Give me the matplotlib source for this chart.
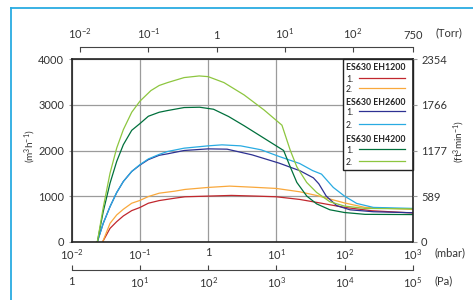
import matplotlib
matplotlib.use('Agg')
import matplotlib.pyplot as plt
from matplotlib.lines import Line2D
from matplotlib.patches import Rectangle
from matplotlib.ticker import NullLocator

plt.rcParams['font.family'] = ['Lato', 'DejaVu Sans']
plt.rcParams['mathtext.fontset'] = 'custom'
plt.rcParams['mathtext.rm'] = 'Lato'
plt.rcParams['mathtext.it'] = 'Lato:italic'
plt.rcParams['mathtext.bf'] = 'Lato:bold'

# pressure (mbar) / pumping speed (m3/h)
p_1200_1 = [0.0285, 0.0365, 0.0457, 0.0572, 0.0759, 0.1, 0.133, 0.192, 0.327, 0.457, 1, 2.2, 5, 10, 22, 42, 100, 250, 1000]
q_1200_1 = [0, 293, 440, 565, 682, 750, 844, 902, 955, 985, 1000, 1015, 1000, 985, 927, 854, 752, 679, 630]

p_1200_2 = [0.0285, 0.0365, 0.0457, 0.0572, 0.0759, 0.1, 0.133, 0.192, 0.327, 0.457, 1, 2.07, 4.5, 10, 22, 40, 100, 200, 1000]
q_1200_2 = [0, 403, 587, 712, 844, 905, 990, 1064, 1109, 1146, 1190, 1219, 1195, 1168, 1095, 1010, 850, 752, 708]

p_2600_1 = [0.0238, 0.029, 0.0365, 0.0457, 0.0572, 0.0759, 0.1, 0.133, 0.192, 0.254, 0.445, 1, 1.9, 4.4, 11, 22.3, 35, 42, 54, 77, 120, 265, 1000]
q_2600_1 = [0, 403, 770, 1078, 1321, 1541, 1680, 1800, 1895, 1927, 2000, 2036, 2029, 1905, 1723, 1555, 1400, 1270, 1000, 790, 700, 657, 635]

p_2600_2 = [0.0238, 0.029, 0.0365, 0.0457, 0.0572, 0.0759, 0.1, 0.133, 0.192, 0.254, 0.445, 1, 1.6, 3, 6, 11, 22, 34, 46, 68.5, 100, 151, 265, 1000]
q_2600_2 = [0, 403, 770, 1078, 1321, 1541, 1690, 1815, 1915, 1978, 2051, 2102, 2124, 2102, 2015, 1869, 1715, 1560, 1482, 1190, 1000, 839, 752, 730]

p_4200_1 = [0.0238, 0.029, 0.0365, 0.0457, 0.0572, 0.0759, 0.1, 0.133, 0.192, 0.254, 0.445, 0.75, 1.2, 2, 3.4, 6.6, 12.8, 16, 20, 28, 39, 61, 100, 200, 1000]
q_4200_1 = [0, 660, 1284, 1761, 2128, 2443, 2590, 2751, 2839, 2876, 2942, 2949, 2905, 2745, 2540, 2270, 2000, 1642, 1300, 1000, 830, 700, 640, 600, 595]

p_4200_2 = [0.0238, 0.029, 0.0365, 0.0457, 0.0572, 0.0759, 0.1, 0.145, 0.192, 0.254, 0.445, 0.74, 1, 1.71, 3.37, 6.6, 12.1, 16, 20, 27.9, 39, 61, 100, 200, 1000]
q_4200_2 = [0, 750, 1504, 2054, 2458, 2839, 3081, 3314, 3426, 3489, 3599, 3635, 3620, 3489, 3219, 2890, 2555, 2007, 1642, 1300, 1080, 876, 781, 730, 720]

groups = ['ES630 EH1200', 'ES630 EH2600', 'ES630 EH4200']
series = [
    (p_1200_1, q_1200_1, '#c1272d'),
    (p_1200_2, q_1200_2, '#f9a83c'),
    (p_2600_1, q_2600_1, '#2e3192'),
    (p_2600_2, q_2600_2, '#29abe2'),
    (p_4200_1, q_4200_1, '#00703c'),
    (p_4200_2, q_4200_2, '#8dc63f'),
]

mbar_ticks = [0.01, 0.1, 1, 10, 100, 1000]
mbar_labels = ['$10^{-2}$', '$10^{-1}$', '1', '$10^{1}$', '$10^{2}$', '$10^{3}$']
torr_ticks = [0.01, 0.1, 1, 10, 100, 750]
torr_labels = ['$10^{-2}$', '$10^{-1}$', '1', '$10^{1}$', '$10^{2}$', '750']
pa_ticks = [1, 10, 100, 1000, 10000, 100000]
pa_labels = ['1', '$10^{1}$', '$10^{2}$', '$10^{3}$', '$10^{4}$', '$10^{5}$']
m3h_ticks = [0, 1000, 2000, 3000, 4000]
cfm_ticks = [0, 589, 1177, 1766, 2354]

fig = plt.figure(figsize=(4.73, 3.0), dpi=100)
W, H = 473, 300
L, R, T, B = 71.7, 412.7, 59.3, 241.7
ax = fig.add_axes([L / W, 1 - B / H, (R - L) / W, (B - T) / H])

for p, q, c in series:
    ax.plot(p, q, color=c, lw=0.9, zorder=3)

ax.set_xscale('log')
ax.set_xlim(0.01, 1000)
ax.set_ylim(0, 4000)
ax.xaxis.set_minor_locator(NullLocator())
ax.set_xticks(mbar_ticks, labels=mbar_labels)
ax.set_yticks(m3h_ticks)
ax.grid(True, color='#9b9b9b', lw=0.9)
ax.tick_params(axis='x', length=0, pad=4, labelsize=8, colors='#333333')
ax.tick_params(axis='y', length=2.5, color='#9b9b9b', pad=3, labelsize=8, labelcolor='#333333')
for s in ax.spines.values():
    s.set_linewidth(1.2)
    s.set_color('#222222')
    s.set_zorder(6)

ax2 = ax.twinx()
ax2.set_ylim(0, 4000 * 0.58858)
ax2.set_yticks(cfm_ticks)
ax2.tick_params(axis='y', length=3, color='#9b9b9b', pad=3, labelsize=8, labelcolor='#333333')
for s in ax2.spines.values():
    s.set_visible(False)

fig.text(30 / W, 1 - 146 / H, '(m$^3$h$^{-1}$)', rotation=90, fontsize=7.2, color='#333333',
         ha='center', va='center')
fig.text(459 / W, 1 - 141 / H, '(ft$^3$min$^{-1}$)', rotation=90, fontsize=7.2, color='#333333',
         ha='center', va='center')

# Torr scale on top
torr = ax.secondary_xaxis('top', functions=(lambda x: x / 1.33322, lambda x: x * 1.33322))
torr.set_xticks(torr_ticks, labels=torr_labels)
torr.xaxis.set_minor_locator(NullLocator())
torr.spines['top'].set_position(('outward', 9))
torr.spines['top'].set_bounds(0.01, 750)
torr.spines['top'].set_color('#444444')
torr.tick_params(direction='in', length=3.5, color='#444444', pad=4, labelsize=8, labelcolor='#333333')

# Pa scale at bottom
pa = ax.secondary_xaxis('bottom', functions=(lambda x: x * 100, lambda x: x / 100))
pa.set_xticks(pa_ticks, labels=pa_labels)
pa.xaxis.set_minor_locator(NullLocator())
pa.spines['bottom'].set_position(('outward', 20.5))
pa.spines['bottom'].set_color('#444444')
pa.tick_params(direction='in', length=3.5, color='#444444', pad=4, labelsize=8, labelcolor='#333333')

fig.text(435 / W, 1 - 33 / H, '(Torr)', fontsize=8, color='#333333', va='center')
fig.text(434 / W, 1 - 253 / H, '(mbar)', fontsize=8, color='#333333', va='center')
fig.text(434 / W, 1 - 281 / H, '(Pa)', fontsize=8, color='#333333', va='center')

# legend box
def axx(px):
    return (px - L) / (R - L)

def axy(py):
    return (B - py) / (B - T)

ax.add_patch(Rectangle((axx(343), axy(170)), axx(R) - axx(343), axy(58.5) - axy(170),
                       transform=ax.transAxes, facecolor='white', edgecolor='#222222',
                       lw=1.0, zorder=5, clip_on=False))
title_y = [67.3, 102.7, 139.3]
row_y = [(79.3, 89.3), (112.7, 125), (150, 162.7)]
for gi, g in enumerate(groups):
    ax.text(axx(346), axy(title_y[gi]), g, transform=ax.transAxes, fontsize=6.3,
            fontweight='bold', color='#222222', va='center', zorder=7)
    for k in range(2):
        yy = row_y[gi][k]
        ax.text(axx(346), axy(yy), f'{k + 1}.', transform=ax.transAxes, fontsize=6.3,
                color='#222222', va='center', zorder=7)
        ax.plot([axx(359), axx(405)], [axy(yy - 1.5), axy(yy - 1.5)], transform=ax.transAxes,
                color=series[gi * 2 + k][2], lw=0.9, zorder=7, clip_on=False)

# blue frame
fig.add_artist(Line2D([11 / W, 11 / W], [0, 1 - 8 / H], color='#29abe2', lw=1.3))
fig.add_artist(Line2D([11 / W, 1], [1 - 8 / H, 1 - 8 / H], color='#29abe2', lw=1.3))

fig.savefig('out.png', dpi=100)
